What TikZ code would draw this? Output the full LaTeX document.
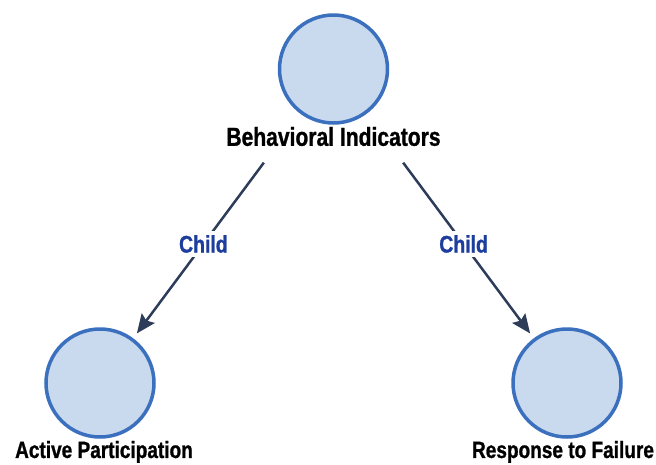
\documentclass[tikz,border=0pt]{standalone}
\usepackage{fontspec}
\setmainfont{Liberation Sans}
\newfontfamily\narrowfont{Liberation Sans Bold}[FakeStretch=0.81,FakeBold=1]
\usetikzlibrary{arrows,arrows.meta,shapes}
\definecolor{nodefill}{RGB}{201,217,238}
\definecolor{nodeline}{RGB}{58,112,190}
\definecolor{edgeline}{RGB}{45,60,88}
\definecolor{edgetext}{RGB}{30,62,158}
\tikzset{
  treenode/.style = {align=center, inner sep=0pt, text centered,
    font=\bfseries},
  ind_c/.style = {treenode, circle, draw=nodeline, fill=nodefill,
    line width=3.5pt, minimum size=108pt},% indicateur, cercle
  ind_t/.style = {font=\narrowfont\fontsize{26}{30}\selectfont, black,
    inner sep=1pt},% indicateur, texte
  ind_s/.style = {ind_t, font=\narrowfont\fontsize{23.5}{28}\selectfont},% sous-indicateur, texte
  ind_e/.style = {font=\narrowfont\fontsize{24}{28}\selectfont, edgetext,
    fill=white, inner sep=4pt}% etiquette d'arete
}
\begin{document}
\begin{tikzpicture}[x=1pt,y=1pt,->,>={Stealth[length=19pt,width=16pt,inset=3pt]},
  level/.style={sibling distance = 467pt, level distance = 314pt},
  edge from parent/.style={draw=edgeline, line width=2.5pt,
    shorten <=61pt, shorten >=6pt}]
\useasboundingbox (0,0) rectangle (656,-464);
\node [ind_c, label={[ind_t,label distance=1pt]below:Behavioral Indicators}]
  (root) at (333.5,-69) {}
    child{ node [ind_c, label={[ind_s,label distance=1pt,xshift=4pt]below:Active Participation}] (act) {}
           edge from parent node [ind_e, pos=0.58] {Child}
    }
    child{ node [ind_c, label={[ind_s,label distance=1pt,xshift=-4pt]below:Response to Failure}] (resp) {}
           edge from parent node [ind_e, pos=0.58] {Child}
    }
;
\end{tikzpicture}
\end{document}
